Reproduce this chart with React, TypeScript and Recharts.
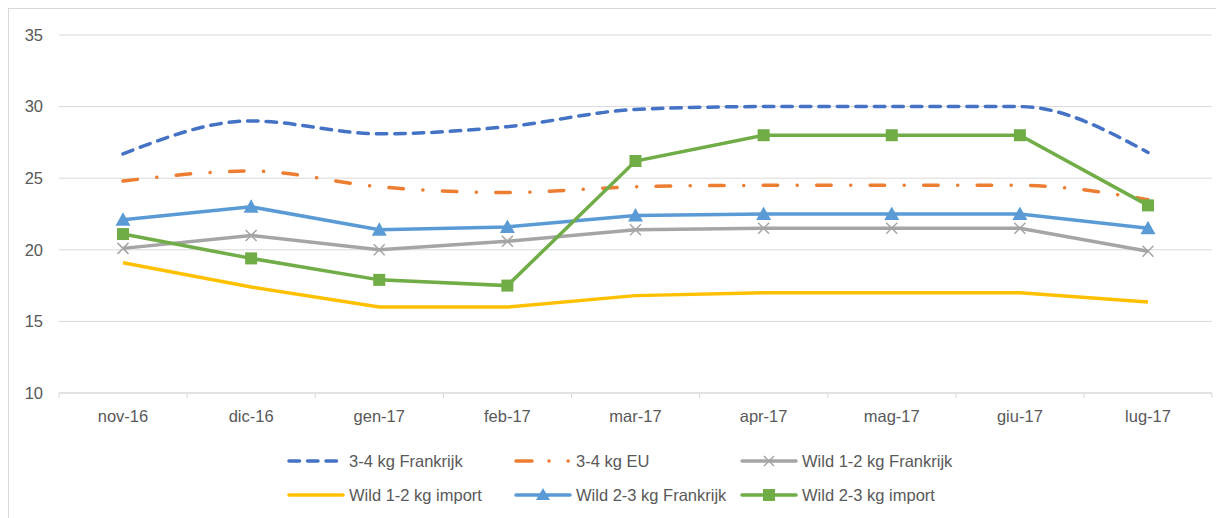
import React from 'react';
import { LineChart, Line, XAxis, YAxis, CartesianGrid } from 'recharts';

const categories = ['nov-16', 'dic-16', 'gen-17', 'feb-17', 'mar-17', 'apr-17', 'mag-17', 'giu-17', 'lug-17'];
const fr34 = [26.7, 29.0, 28.1, 28.6, 29.8, 30.0, 30.0, 30.0, 26.8];
const eu34 = [24.8, 25.5, 24.4, 24.0, 24.4, 24.5, 24.5, 24.5, 23.5];
const wild12fr = [20.1, 21.0, 20.0, 20.6, 21.4, 21.5, 21.5, 21.5, 19.9];
const wild12imp = [19.1, 17.4, 16.0, 16.0, 16.8, 17.0, 17.0, 17.0, 16.35];
const wild23fr = [22.1, 23.0, 21.4, 21.6, 22.4, 22.5, 22.5, 22.5, 21.5];
const wild23imp = [21.1, 19.4, 17.9, 17.5, 26.2, 28.0, 28.0, 28.0, 23.1];
const yTicks = [10, 15, 20, 25, 30, 35];

const data = categories.map((c, i) => ({
  cat: c,
  fr34: fr34[i],
  eu34: eu34[i],
  wild12fr: wild12fr[i],
  wild12imp: wild12imp[i],
  wild23fr: wild23fr[i],
  wild23imp: wild23imp[i],
}));

const FONT = '"Liberation Sans", Arial, sans-serif';
const TEXT = '#595959';
const GRID = '#d9d9d9';
const HALF_BAND = 64;

const C = {
  fr34: '#4472C4',
  eu34: '#ED7D31',
  wild12fr: '#A5A5A5',
  wild12imp: '#FFC000',
  wild23fr: '#5B9BD5',
  wild23imp: '#70AD47',
};

const DASH_FR = '10.5 8';
const DASH_EU = '14.5 19.5 0.1 19.4';

const XTick = (props: any) => {
  const { x, y, payload, index } = props;
  const last = index === categories.length - 1;
  return (
    <g>
      <line x1={x - HALF_BAND} y1={y} x2={x - HALF_BAND} y2={y + 5} stroke={GRID} />
      {last && <line x1={x + HALF_BAND} y1={y} x2={x + HALF_BAND} y2={y + 5} stroke={GRID} />}
      <text x={x} y={y + 29} textAnchor="middle" fill={TEXT} fontSize={16.5} fontFamily={FONT}>
        {payload.value}
      </text>
    </g>
  );
};

const Triangle = (props: any) => {
  const { cx, cy, index } = props;
  if (cx == null || cy == null) return <g key={index} />;
  const s = 7.5;
  return (
    <polygon
      key={index}
      points={`${cx},${cy - s} ${cx + s},${cy + s * 0.8} ${cx - s},${cy + s * 0.8}`}
      fill={C.wild23fr}
    />
  );
};

const Square = (props: any) => {
  const { cx, cy, index } = props;
  if (cx == null || cy == null) return <g key={index} />;
  const s = 6;
  return <rect key={index} x={cx - s} y={cy - s} width={2 * s} height={2 * s} fill={C.wild23imp} />;
};

const Cross = (props: any) => {
  const { cx, cy, index } = props;
  if (cx == null || cy == null) return <g key={index} />;
  const s = 5.5;
  return (
    <g key={index} stroke={C.wild12fr} strokeWidth={1.5}>
      <line x1={cx - s} y1={cy - s} x2={cx + s} y2={cy + s} />
      <line x1={cx - s} y1={cy + s} x2={cx + s} y2={cy - s} />
    </g>
  );
};

const legendItems = [
  { label: '3-4 kg Frankrijk', key: 'fr34', col: 0, row: 0 },
  { label: '3-4 kg EU', key: 'eu34', col: 1, row: 0 },
  { label: 'Wild 1-2 kg Frankrijk', key: 'wild12fr', col: 2, row: 0 },
  { label: 'Wild 1-2 kg import', key: 'wild12imp', col: 0, row: 1 },
  { label: 'Wild 2-3 kg Frankrijk', key: 'wild23fr', col: 1, row: 1 },
  { label: 'Wild 2-3 kg import', key: 'wild23imp', col: 2, row: 1 },
];

const colX = [278, 505, 731];
const rowY = [452, 486];

const Swatch = ({ k }: { k: string }) => {
  const color = (C as any)[k];
  const w = 58;
  const h = 16;
  const cy = h / 2;
  let dash: string | undefined;
  if (k === 'fr34') dash = DASH_FR;
  if (k === 'eu34') dash = '16 17 0.1 19 0.1 100';
  return (
    <svg width={w} height={h} style={{ display: 'block' }}>
      <line
        x1={2}
        y1={cy}
        x2={w - 2}
        y2={cy}
        stroke={color}
        strokeWidth={3.5}
        strokeDasharray={dash}
        strokeLinecap="round"
      />
      {k === 'wild12fr' && (
        <g stroke={color} strokeWidth={1.5}>
          <line x1={w / 2 - 5} y1={cy - 5} x2={w / 2 + 5} y2={cy + 5} />
          <line x1={w / 2 - 5} y1={cy + 5} x2={w / 2 + 5} y2={cy - 5} />
        </g>
      )}
      {k === 'wild23fr' && (
        <polygon points={`${w / 2},${cy - 7} ${w / 2 + 7},${cy + 5} ${w / 2 - 7},${cy + 5}`} fill={color} />
      )}
      {k === 'wild23imp' && <rect x={w / 2 - 6} y={cy - 6} width={12} height={12} fill={color} />}
    </svg>
  );
};

export default function App() {
  return (
    <div
      style={{
        position: 'relative',
        width: 1216,
        height: 520,
        border: `1px solid ${GRID}`,
        boxSizing: 'border-box',
        fontFamily: FONT,
        background: '#fff',
      }}
    >
      <div style={{ position: 'absolute', left: 0, top: 0 }}>
        <LineChart
          width={1215}
          height={510}
          data={data}
          margin={{ top: 26, right: 12, bottom: 0, left: 0 }}
        >
          <CartesianGrid vertical={false} stroke={GRID} strokeWidth={1} />
          <XAxis
            dataKey="cat"
            axisLine={{ stroke: GRID }}
            tickLine={false}
            tickSize={0}
            tickMargin={0}
            interval={0}
            padding={{ left: HALF_BAND, right: HALF_BAND }}
            height={126}
            tick={<XTick />}
          />
          <YAxis
            domain={[10, 35]}
            ticks={yTicks}
            width={50}
            axisLine={false}
            tickLine={false}
            tickSize={0}
            tickMargin={16}
            tick={{ fill: TEXT, fontSize: 16.5, fontFamily: FONT }}
            interval={0}
          />
          <Line
            type="monotone"
            dataKey="fr34"
            stroke={C.fr34}
            strokeWidth={3.5}
            strokeDasharray={DASH_FR}
            strokeLinecap="round"
            dot={false}
            activeDot={false}
            isAnimationActive={false}
          />
          <Line
            type="monotone"
            dataKey="eu34"
            stroke={C.eu34}
            strokeWidth={3.5}
            strokeDasharray={DASH_EU}
            strokeLinecap="round"
            dot={false}
            activeDot={false}
            isAnimationActive={false}
          />
          <Line
            type="linear"
            dataKey="wild12fr"
            stroke={C.wild12fr}
            strokeWidth={3.5}
            dot={<Cross />}
            activeDot={false}
            isAnimationActive={false}
          />
          <Line
            type="linear"
            dataKey="wild12imp"
            stroke={C.wild12imp}
            strokeWidth={3.5}
            dot={false}
            activeDot={false}
            isAnimationActive={false}
          />
          <Line
            type="linear"
            dataKey="wild23fr"
            stroke={C.wild23fr}
            strokeWidth={3.5}
            dot={<Triangle />}
            activeDot={false}
            isAnimationActive={false}
          />
          <Line
            type="linear"
            dataKey="wild23imp"
            stroke={C.wild23imp}
            strokeWidth={3.5}
            dot={<Square />}
            activeDot={false}
            isAnimationActive={false}
          />
        </LineChart>
      </div>
      {legendItems.map((it) => (
        <div
          key={it.key}
          style={{
            position: 'absolute',
            left: colX[it.col],
            top: rowY[it.row] - 8,
            display: 'flex',
            alignItems: 'center',
            height: 16,
            whiteSpace: 'nowrap',
          }}
        >
          <Swatch k={it.key} />
          <span style={{ marginLeft: 4, fontSize: 16.5, color: TEXT, fontFamily: FONT, lineHeight: '16px' }}>
            {it.label}
          </span>
        </div>
      ))}
    </div>
  );
}
